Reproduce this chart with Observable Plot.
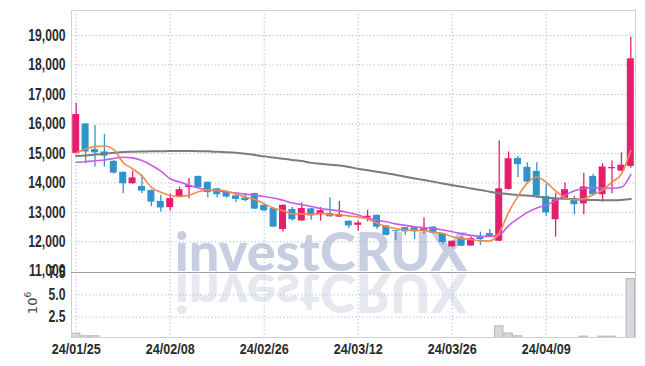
<!DOCTYPE html>
<html><head><meta charset="utf-8">
<script src="https://cdn.jsdelivr.net/npm/d3@7"></script>
<script src="https://cdn.jsdelivr.net/npm/@observablehq/plot@0.6"></script>
<style>
body{margin:0;background:#fff;}
#wrap{position:relative;width:645px;height:366px;overflow:hidden;}
#wrap svg{position:absolute;left:0;top:0;overflow:visible;background:transparent;}
</style></head><body><div id="wrap"></div>
<script>
const dates = ["24/01/25","24/01/26","24/01/29","24/01/30","24/01/31","24/02/01","24/02/02","24/02/05","24/02/06","24/02/07",
"24/02/08","24/02/13","24/02/14","24/02/15","24/02/16","24/02/19","24/02/20","24/02/21","24/02/22","24/02/23",
"24/02/26","24/02/27","24/02/28","24/02/29","24/03/04","24/03/05","24/03/06","24/03/07","24/03/08","24/03/11",
"24/03/12","24/03/13","24/03/14","24/03/15","24/03/18","24/03/19","24/03/20","24/03/21","24/03/22","24/03/25",
"24/03/26","24/03/27","24/03/28","24/03/29","24/04/01","24/04/02","24/04/03","24/04/04","24/04/05","24/04/08",
"24/04/09","24/04/11","24/04/12","24/04/15","24/04/16","24/04/17","24/04/18","24/04/19","24/04/22","24/04/23"];
const open  = [15000,16000,15130,15050,14730,14360,13970,13880,13740,13370,13160,13540,13840,14220,14020,13800,13700,13560,13490,13640,
13240,13130,12420,13100,12710,13120,12920,12960,12840,12700,12560,12810,12900,12540,12380,12480,12480,12380,12500,12280,
11830,12130,11860,12160,12280,12020,13780,14830,14530,14390,13540,12750,13460,13460,13290,14220,13600,14480,14400,14560];
const high  = [16700,16000,15950,15650,14760,14380,14400,14270,13760,13580,13620,13860,14150,14230,14030,13820,13720,13670,13640,13650,
13260,13150,13250,13170,13320,13140,13160,13500,13370,12710,12710,13070,12910,12560,12380,12490,12490,12820,12510,12290,
12030,12180,12170,12330,12420,15420,15050,14900,14680,14680,13950,13650,14000,13540,14330,14290,14650,14740,15020,18940];
const low   = [14980,14650,14540,14540,14300,13630,13960,13640,13200,13010,13050,13500,13460,13830,13500,13500,13480,13330,13360,13100,
13030,12490,12330,12700,12700,12730,12700,12840,12830,12450,12370,12680,12420,12200,12050,12220,12080,12270,12270,11900,
11820,11840,11850,11880,12150,12010,13750,14180,14000,13480,12870,12160,13440,12920,12920,13590,13350,13630,14380,14500];
const close = [16320,15050,15020,14910,14330,13970,14170,13720,13350,13150,13470,13770,13900,13840,13670,13600,13520,13440,13400,13110,
13050,12500,13240,12750,13130,12880,13060,12850,12930,12540,12640,12870,12500,12220,12350,12340,12340,12440,12290,11980,
12020,11850,12110,12080,12160,13800,14820,14620,14030,13550,12980,13430,13770,13260,13860,13600,14540,14520,14600,18210];
const volume = [660000,360000,360000,150000,150000,150000,150000,150000,150000,150000,150000,150000,150000,150000,150000,150000,150000,150000,150000,150000,
150000,150000,150000,150000,150000,150000,150000,150000,150000,150000,150000,150000,150000,150000,150000,150000,150000,150000,150000,150000,
150000,150000,150000,150000,150000,1470000,660000,360000,150000,150000,150000,150000,150000,150000,320000,150000,320000,320000,150000,6770000];
const ma5 = [15020,15150,15230,15250,15130,14690,14480,14230,13850,13680,13570,13540,13580,13700,13760,13760,13720,13620,13520,13440,
13290,13140,13060,12950,12950,12930,12970,12930,12920,12880,12840,12780,12630,12520,12450,12400,12390,12380,12330,12290,
12170,12110,12080,12040,12030,12300,13000,13550,14000,14200,14020,13730,13500,13430,13460,13600,13760,14030,14300,15100];
const ma20 = [14700,14720,14750,14780,14830,14870,14850,14760,14600,14400,14140,14030,13920,13830,13760,13730,13690,13660,13620,13580,
13540,13490,13410,13320,13260,13200,13130,13090,13050,12990,12910,12810,12740,12680,12610,12560,12510,12480,12450,12400,
12340,12270,12220,12190,12180,12230,12550,12790,13000,13150,13250,13400,13580,13730,13810,13840,13820,13820,13850,14290];
const maLong = [14910,14930,14960,14990,15020,15050,15060,15065,15070,15075,15080,15080,15080,15078,15070,15055,15040,15020,14990,14950,
14900,14860,14820,14780,14740,14680,14650,14620,14590,14540,14480,14430,14380,14330,14270,14210,14150,14100,14040,13980,
13920,13870,13810,13760,13700,13650,13620,13590,13570,13540,13500,13480,13460,13450,13430,13420,13410,13410,13420,13450];
const priceTicks = [11000,12000,13000,14000,15000,16000,17000,18000,19000];
const volumeTicks = [2500000,5000000,7500000];
const dateTicks = ["24/01/25","24/02/08","24/02/26","24/03/12","24/03/26","24/04/09"];
const watermark = "investCRUX";

const rows = dates.map((d,i)=>({date:d,open:open[i],high:high[i],low:low[i],close:close[i],volume:volume[i],ma5:ma5[i],ma20:ma20[i],maLong:maLong[i]}));
const UP="#e61e6e", DOWN="#2f95c9";
const col = d => d.close >= d.open ? UP : DOWN;
const FONT = "'Liberation Sans', Arial, sans-serif";
const W=645, H=366;
const gridStyle = {stroke:"#aeb6cc", strokeDasharray:"1.2,2.4", strokeWidth:1};
const wrap = document.getElementById("wrap");

// watermark layer
const wm = d3.create("svg").attr("width",W).attr("height",H);
wm.append("text").attr("x",321).attr("y",271).attr("text-anchor","middle")
  .attr("font-family","Lato, 'Open Sans', sans-serif").attr("font-weight",900).attr("font-size",54)
  .attr("fill","#c7cee1").text(watermark);
wm.append("g").attr("transform","translate(0,545) scale(1,-1)").append("text")
  .attr("x",321).attr("y",271).attr("text-anchor","middle")
  .attr("font-family","Lato, 'Open Sans', sans-serif").attr("font-weight",900).attr("font-size",54)
  .attr("fill","#e6e8f0").text(watermark);
wrap.appendChild(wm.node());

function squeeze(svg, sel, sx, size){
  d3.select(svg).selectAll(sel).each(function(){
    const t = this.getAttribute("transform") || "";
    this.setAttribute("transform", t + ` scale(${sx},1)`);
    if (size) this.setAttribute("font-size", size);
  });
}

const vol = Plot.plot({
  width:W, height:H, marginTop:272, marginBottom:29, marginLeft:71, marginRight:10,
  style:{background:"transparent", overflow:"visible", fontFamily:FONT, fontSize:"15px", color:"#2a2a2a"},
  x:{type:"band", domain:dates, padding:0, round:false, tickSize:0, tickPadding:6, label:null,
     tickFormat:d=>dateTicks.includes(d)?d:""},
  y:{domain:[220000,7510000], ticks:volumeTicks, tickSize:0, tickPadding:6, label:null,
     tickFormat:d=>(d/1e6).toFixed(1)},
  marks:[
    Plot.ruleY(volumeTicks.slice(0,2), gridStyle),
    Plot.ruleX(dateTicks, {x:d=>d, ...gridStyle}),
    Plot.barY(rows, {x:"date", y:"volume", fill:"#d8d8de", stroke:"#b4b4bc", strokeWidth:1, insetLeft:0.5, insetRight:0.5, clip:true}),
    Plot.frame({stroke:"#cfcfcf"})
  ]
});
wrap.appendChild(vol);
squeeze(vol, 'g[aria-label^="x-axis"] text', 0.84);
squeeze(vol, 'g[aria-label^="y-axis"] text', 0.76, 16);
d3.select(vol).selectAll('g[aria-label^="x-axis"] text, g[aria-label^="y-axis"] text').attr("font-weight","bold");
const lab = d3.select(vol).append("text").attr("transform","translate(37,303) rotate(-90)")
  .attr("text-anchor","middle").attr("font-family","'DejaVu Sans',sans-serif").attr("font-size",13).attr("fill","#444");
lab.append("tspan").text("10");
lab.append("tspan").attr("dy",-6).attr("font-size",9).text("6");

const price = Plot.plot({
  width:W, height:H, marginTop:10, marginBottom:94, marginLeft:71, marginRight:10,
  style:{background:"transparent", overflow:"visible", fontFamily:FONT, fontSize:"16px", color:"#2a2a2a"},
  x:{type:"band", domain:dates, padding:0, round:false, axis:null},
  y:{domain:[10960,19850], ticks:priceTicks, tickSize:0, tickPadding:6, label:null, tickFormat:d3.format(",")},
  marks:[
    Plot.ruleY(priceTicks.slice(1), gridStyle),
    Plot.ruleX(dateTicks, {x:d=>d, ...gridStyle}),
    Plot.ruleX(rows, {x:"date", y1:"low", y2:"high", stroke:col, strokeWidth:1.3}),
    Plot.barY(rows, {x:"date", y1:"open", y2:"close", fill:col, insetLeft:1.2, insetRight:1.2}),
    Plot.line(rows, {x:"date", y:"maLong", stroke:"#7c7c7c", strokeWidth:2, curve:"monotone-x"}),
    Plot.line(rows, {x:"date", y:"ma20", stroke:"#c75ce6", strokeWidth:1.6, curve:"monotone-x"}),
    Plot.line(rows, {x:"date", y:"ma5", stroke:"#ef8a4f", strokeWidth:1.6, curve:"monotone-x"}),
    Plot.frame({stroke:"#d2d2d2"}),
    Plot.ruleY([10960], {stroke:"#9d9d9d"})
  ]
});
wrap.appendChild(price);
squeeze(price, 'g[aria-label^="y-axis"] text', 0.76);
d3.select(price).selectAll('g[aria-label^="y-axis"] text').attr("font-weight","bold");
</script></body></html>
